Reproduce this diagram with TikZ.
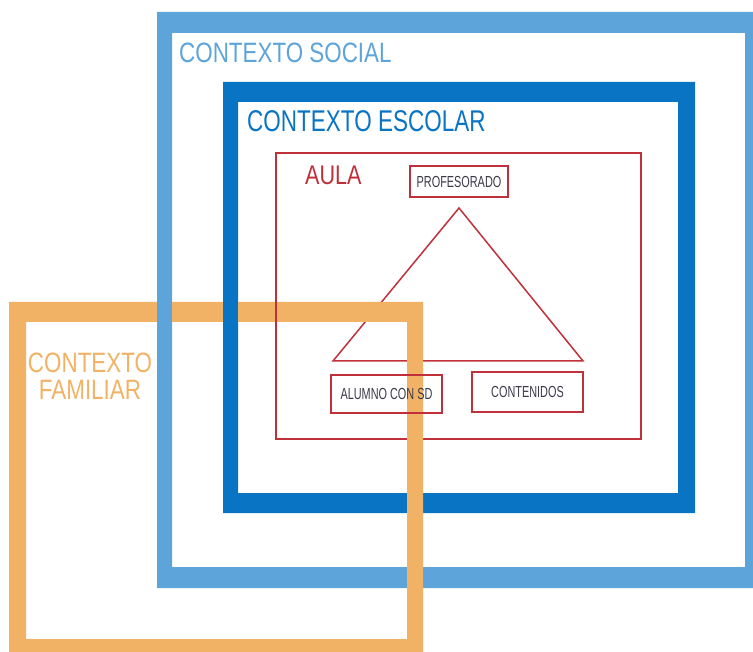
\documentclass[tikz,border=0pt]{standalone}
\usepackage{fontspec}
\setmainfont{Liberation Sans}
\newfontfamily\titlefont{Liberation Sans}[FakeStretch=0.8]
\newfontfamily\escolarfont{Liberation Sans}[FakeStretch=0.75]
\newfontfamily\boxfont{Liberation Sans}[FakeStretch=0.68]
\usetikzlibrary{positioning}
\definecolor{socialblue}{HTML}{5CA4DA}
\definecolor{escolarblue}{HTML}{0A74C4}
\definecolor{familiaorange}{HTML}{F2B265}
\definecolor{aulared}{HTML}{C0303A}
\definecolor{boxtext}{HTML}{3A3A4A}

\begin{document}
\begin{tikzpicture}[x=1pt,y=-1pt]
  \tikzset{
    redline/.style={aulared, line width=1.5pt, line join=miter},
    caja/.style={draw=aulared, line width=1.5pt, inner sep=0pt,
          font=\boxfont\fontsize{16}{16}\selectfont, text=boxtext},
    titulo/.style={anchor=base west, inner sep=0pt,
          font=\titlefont\fontsize{28}{28}\selectfont}
  }
  \useasboundingbox (0,0) rectangle (753,652);

  % marcos azules
  \fill[socialblue,even odd rule] (157,12) rectangle (770,588)
          (172,33) rectangle (745,567);
  \fill[escolarblue,even odd rule] (223,82) rectangle (695,513)
          (238,102) rectangle (678,493);

  % aula y triangulo
  \draw[redline] (276,153) rectangle (641,439);
  \coordinate (top) at (459,208);
  \coordinate (right) at (583,361);
  \coordinate (left) at (333,361);
  \draw[redline] (top) -- (right) -- (left) -- cycle;

  % marco familiar
  \fill[familiaorange,even odd rule] (9,302) rectangle (423,670)
          (26,322) rectangle (407,639);
  \fill[socialblue] (157,301) rectangle (172,323);
  \fill[escolarblue] (223,301) rectangle (238,323);
  \draw[redline] (276,300) -- (276,324);

  \node[caja, minimum width=98pt, minimum height=31pt] (prof) at (459,181.5) {PROFESORADO};
  \node[caja, minimum width=111pt, minimum height=38pt] (alumno) at (386.5,394) {ALUMNO CON SD};
  \node[caja, minimum width=111pt, minimum height=40pt] (cont) at (527.5,392) {CONTENIDOS};

  \node[titulo, text=socialblue] (social) at (179,63) {CONTEXTO SOCIAL};
  \node[titulo, text=escolarblue, font=\escolarfont\fontsize{30}{30}\selectfont]
          (escolar) at (247,132) {CONTEXTO ESCOLAR};
  \node[titulo, text=aulared, font=\titlefont\fontsize{27}{27}\selectfont]
          (aula) at (305,185) {AULA};
  \node[titulo, text=familiaorange, anchor=base, align=center]
          (familiar) at (90,400) {CONTEXTO\\[-1pt]FAMILIAR};
\end{tikzpicture}
\end{document}
